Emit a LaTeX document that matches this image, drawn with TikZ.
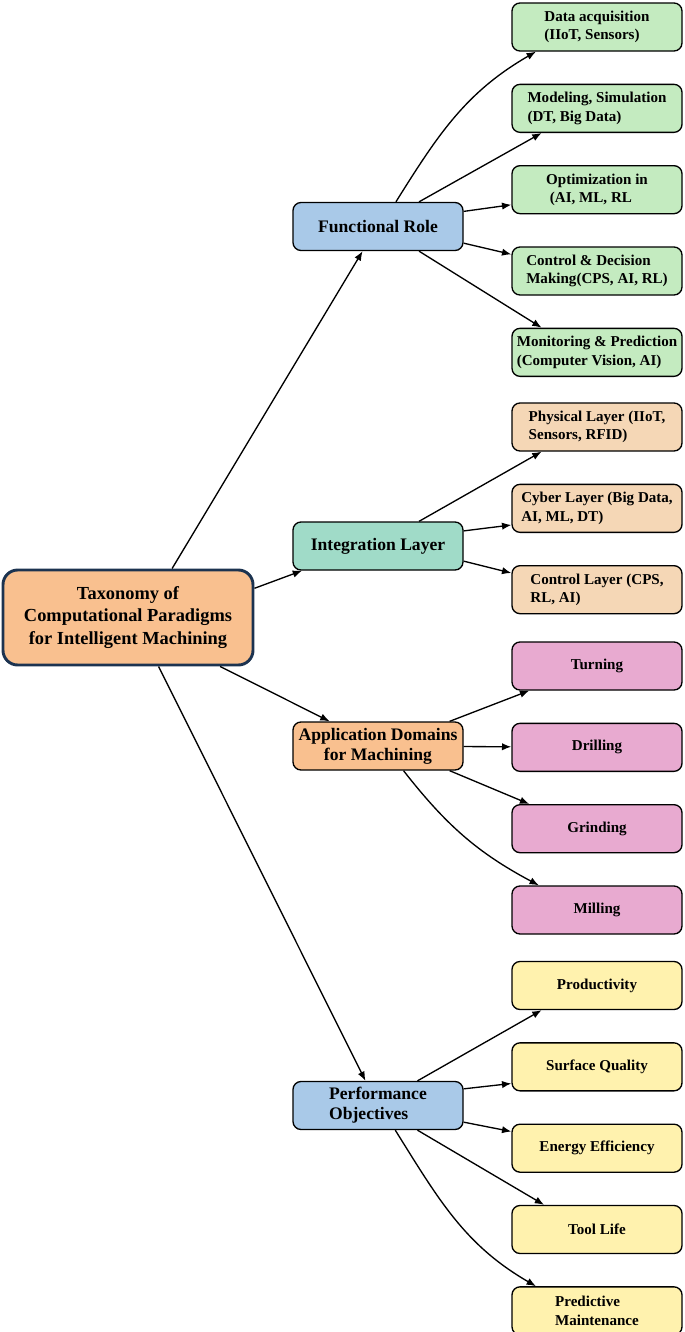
\documentclass[tikz,border=0pt]{standalone}
\usepackage{fontspec}
\setmainfont{Liberation Serif}
\usepackage{tikz}
\usetikzlibrary{arrows.meta, positioning}
\usepackage{xcolor}
\definecolor{rootfill}{RGB}{249,192,143}
\definecolor{rootedge}{RGB}{28,51,80}
\definecolor{rolefill}{RGB}{169,201,232}
\definecolor{layerfill}{RGB}{160,219,200}
\definecolor{greenfill}{RGB}{196,235,192}
\definecolor{tanfill}{RGB}{245,215,182}
\definecolor{pinkfill}{RGB}{232,170,208}
\definecolor{yellowfill}{RGB}{255,242,174}

\begin{document}
\begin{tikzpicture}[
  x=0.75pt, y=-0.75pt,
  node distance=24pt,
  hub/.style={rectangle, draw=rootedge, fill=rootfill, line width=2.2pt,
    rounded corners=11pt, minimum width=187.5pt, minimum height=71.25pt,
    align=center, font=\fontsize{13.8}{16.9}\selectfont\bfseries},
  branch/.style={rectangle, draw=black, line width=1pt,
    rounded corners=6pt, minimum width=127.5pt, minimum height=36pt,
    inner sep=2pt, align=center, font=\fontsize{13.2}{15}\selectfont\bfseries},
  leaf/.style={rectangle, draw=black, line width=1pt,
    rounded corners=6pt, minimum width=127.5pt, minimum height=36pt,
    inner sep=2pt, align=left, font=\fontsize{11.3}{13.75}\selectfont\bfseries},
  arrow/.style={-{Latex[length=7pt,width=5.5pt]}, line width=1pt, black}
]
\useasboundingbox (0,0) rectangle (685,1332);

% Root
\node[hub] (taxonomy) at (128,617.5) {Taxonomy of\\Computational Paradigms\\for Intelligent Machining};

% Branches
\node[branch, fill=rolefill] (role) at (378,226.5) {Functional Role};
\node[branch, fill=layerfill] (layer) at (378,546) {Integration Layer};
\node[branch, fill=rootfill] (domain) at (378,746) {Application Domains\\for Machining};
\node[branch, fill=rolefill, align=left] (perf) at (378,1105.5) {Performance\\Objectives};

% Functional role leaves
\node[leaf, fill=greenfill] (acq) at (597,27) {Data acquisition\\(IIoT, Sensors)};
\node[leaf, fill=greenfill, below=of acq] (model) {Modeling, Simulation\\(DT, Big Data)};
\node[leaf, fill=greenfill, below=of model] (optim) {Optimization in\\\ (AI, ML, RL};
\node[leaf, fill=greenfill, below=of optim] (decide) {Control \& Decision\\Making(CPS, AI, RL)};
\node[leaf, fill=greenfill, below=of decide] (monitor) {Monitoring \& Prediction\\(Computer Vision, AI)};

% Integration layer leaves
\node[leaf, fill=tanfill] (physical) at (597,427) {Physical Layer (IIoT,\\Sensors, RFID)};
\node[leaf, fill=tanfill, below=of physical] (cyber) {Cyber Layer (Big Data,\\AI, ML, DT)};
\node[leaf, fill=tanfill, below=of cyber] (ctrl) {Control Layer (CPS,\\RL, AI)};

% Application domain leaves
\node[leaf, fill=pinkfill, align=center] (turning) at (597,666) {Turning};
\node[leaf, fill=pinkfill, align=center, below=of turning] (drilling) {Drilling};
\node[leaf, fill=pinkfill, align=center, below=of drilling] (grinding) {Grinding};
\node[leaf, fill=pinkfill, align=center, below=of grinding] (milling) {Milling};

% Performance objective leaves
\node[leaf, fill=yellowfill, align=center] (prod) at (597,985.5) {Productivity};
\node[leaf, fill=yellowfill, align=center, below=of prod] (surface) {Surface Quality};
\node[leaf, fill=yellowfill, align=center, below=of surface] (energy) {Energy Efficiency};
\node[leaf, fill=yellowfill, align=center, below=of energy] (tool) {Tool Life};
\node[leaf, fill=yellowfill, below=of tool] (maint) {Predictive\\Maintenance};

% Arrows from root
\draw[arrow] (taxonomy.48.5) -- (role.-122.6);
\draw[arrow] (taxonomy.13.7) -- (layer.-162.3);
\draw[arrow] (taxonomy.-28.6) -- (domain.153.4);
\draw[arrow] (taxonomy.-58.6) -- (perf.117.9);

% Functional role
\draw[arrow] (role.54) to[out=58, in=-150] (acq.-158);
\draw[arrow] (role.31) -- (model.-156.4);
\draw[arrow] (role.10.3) -- (optim.-170);
\draw[arrow] (role.-11) -- (decide.169.7);
\draw[arrow] (role.-31) -- (monitor.156);

% Integration layer
\draw[arrow] (layer.31) -- (physical.-156.4);
\draw[arrow] (layer.10.7) -- (cyber.-169);
\draw[arrow] (layer.-10.7) -- (ctrl.169.3);

% Application domains
\draw[arrow] (domain.19.2) -- (turning.-160.3);
\draw[arrow] (domain) -- (drilling);
\draw[arrow] (domain.-19.2) -- (grinding.160.3);
\draw[arrow] (domain.-44) to[out=-52, in=152] (milling.157);

% Performance objectives
\draw[arrow] (perf.32) -- (prod.-156);
\draw[arrow] (perf.11) -- (surface.-169);
\draw[arrow] (perf.-11) -- (energy.169);
\draw[arrow] (perf.-32) -- (tool.155.6);
\draw[arrow] (perf.-55) to[out=-58, in=150] (maint.158);
\end{tikzpicture}
\end{document}
